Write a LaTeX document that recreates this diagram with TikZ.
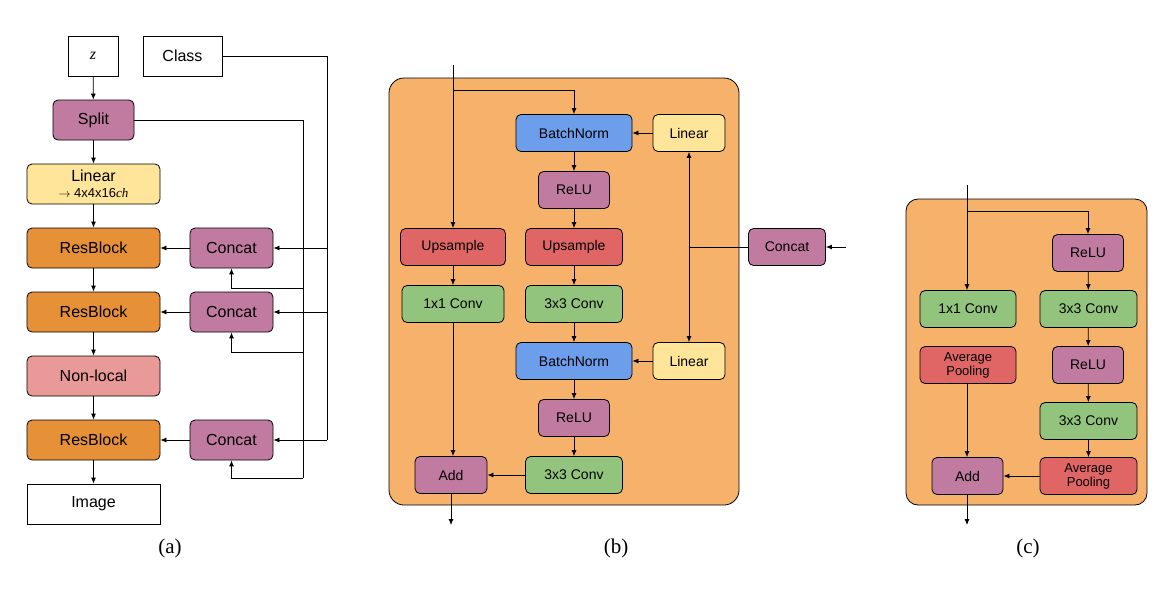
\documentclass[tikz,border=0pt]{standalone}
\usepackage{fontspec}
\setmainfont{Liberation Sans}
\newfontfamily\serif{Liberation Serif}
\usetikzlibrary{arrows.meta}
\definecolor{cpur}{HTML}{C27BA0}
\definecolor{cyel}{HTML}{FFE599}
\definecolor{corg}{HTML}{E69138}
\definecolor{cpink}{HTML}{EA9999}
\definecolor{cblue}{HTML}{6D9EEB}
\definecolor{cred}{HTML}{E06666}
\definecolor{cgrn}{HTML}{93C47D}
\definecolor{cbg}{HTML}{F6B26B}
\begin{document}
\begin{tikzpicture}[x=1pt,y=-1pt,
 blk/.style={draw=black,line width=0.8pt,rounded corners=5pt,inner sep=0pt,align=center},
 A/.style={blk,minimum height=40pt,font=\fontsize{16}{18}\selectfont},
 B/.style={blk,minimum height=37pt,font=\fontsize{14}{16}\selectfont},
 arr/.style={-{Latex[length=6pt,width=5pt]},line width=0.8pt},
 ln/.style={line width=0.8pt},
 lab/.style={font=\serif\fontsize{21}{24}\selectfont}]
\useasboundingbox (0,0) rectangle (1172,590);
% (a)
\node[A,rounded corners=0pt,minimum width=50pt] (z) at (93,56) {\itshape\serif z};
\node[A,rounded corners=0pt,minimum width=79pt] (cls) at (182.5,56) {Class};
\node[A,fill=cpur,minimum width=81pt] (split) at (93.5,120) {Split};
\node[A,fill=cyel,minimum width=133pt] (lin) at (93.5,184) {Linear\\[-2pt]{\fontsize{13}{14}\selectfont$\rightarrow$ 4x4x16\serif\itshape ch}};
\node[A,fill=corg,minimum width=133pt] (rb1) at (93.5,248) {ResBlock};
\node[A,fill=corg,minimum width=133pt] (rb2) at (93.5,312) {ResBlock};
\node[A,fill=cpink,minimum width=133pt] (nl) at (93.5,376) {Non-local};
\node[A,fill=corg,minimum width=133pt] (rb3) at (93.5,440) {ResBlock};
\node[A,rounded corners=0pt,minimum width=133pt] (img) at (93.5,504) {Image};
\node[A,fill=cpur,minimum width=83pt] (c1) at (231.5,248) {Concat};
\node[A,fill=cpur,minimum width=83pt] (c2) at (231.5,312) {Concat};
\node[A,fill=cpur,minimum width=83pt] (c3) at (231.5,440) {Concat};
\draw[arr] (z) -- (split);
\draw[arr] (split) -- (lin);
\draw[arr] (lin) -- (rb1);
\draw[arr] (rb1) -- (rb2);
\draw[arr] (rb2) -- (nl);
\draw[arr] (nl) -- (rb3);
\draw[arr] (rb3) -- (img);
\draw[arr] (c1) -- (rb1);
\draw[arr] (c2) -- (rb2);
\draw[arr] (c3) -- (rb3);
\coordinate (ct) at (327,56);
\coordinate (cb) at (327,440);
\draw[ln] (cls.east) -- (ct) -- (cb);
\draw[arr] (cb) -- (c3.east);
\draw[arr] (327,248) -- (c1.east);
\draw[arr] (327,312) -- (c2.east);
\coordinate (st) at (303,120);
\coordinate (sb) at (303,478);
\draw[ln] (split.east) -- (st) -- (sb);
\draw[arr] (sb) -| (c3.south);
\draw[arr] (303,288) -| (c1.south);
\draw[arr] (303,352) -| (c2.south);
\node[lab] (la) at (170,548) {(a)};
% (b)
\node[draw=black,line width=0.8pt,fill=cbg,rounded corners=15pt,minimum width=350pt,minimum height=427pt,inner sep=0pt] (bgb) at (564,291.5) {};
\node[B,fill=cblue,minimum width=116pt] (bn1) at (574,133) {BatchNorm};
\node[B,fill=cyel,minimum width=72pt] (l1) at (689,133) {Linear};
\node[B,fill=cpur,minimum width=71pt] (r1) at (574,190) {ReLU};
\node[B,fill=cred,minimum width=105pt] (upl) at (453,247) {Upsample};
\node[B,fill=cred,minimum width=97pt] (upr) at (574,247) {Upsample};
\node[B,fill=cgrn,minimum width=102pt] (c11) at (453,304) {1x1 Conv};
\node[B,fill=cgrn,minimum width=97pt] (c31) at (574,304) {3x3 Conv};
\node[B,fill=cblue,minimum width=116pt] (bn2) at (574,361) {BatchNorm};
\node[B,fill=cyel,minimum width=72pt] (l2) at (689,361) {Linear};
\node[B,fill=cpur,minimum width=71pt] (r2) at (574,418) {ReLU};
\node[B,fill=cpur,minimum width=72pt] (addb) at (451,475) {Add};
\node[B,fill=cgrn,minimum width=97pt] (c32) at (574,475) {3x3 Conv};
\node[B,fill=cpur,minimum width=77pt] (ccb) at (787,247) {Concat};
\coordinate (bin) at (453,65);
\coordinate (bsp) at (453,90);
\coordinate (bout) at (451,525);
\coordinate (bcin) at (846,247);
\draw[arr] (bin) -- (upl);
\draw[arr] (bsp) -| (bn1.north);
\draw[arr] (bn1) -- (r1);
\draw[arr] (r1) -- (upr);
\draw[arr] (upr) -- (c31);
\draw[arr] (c31) -- (bn2);
\draw[arr] (bn2) -- (r2);
\draw[arr] (r2) -- (c32);
\draw[arr] (upl) -- (c11);
\draw[arr] (c11.south) -- (addb.north -| c11.south);
\draw[arr] (c32) -- (addb);
\draw[arr] (addb) -- (bout);
\draw[arr] (l1) -- (bn1);
\draw[arr] (l2) -- (bn2);
\draw[arr] (bcin) -- (ccb);
\draw[arr] (ccb.west) -- (689,247) -- (l1.south);
\draw[arr] (689,247) -- (l2.north);
\node[lab] (lb) at (616,548) {(b)};
% (c)
\node[draw=black,line width=0.8pt,fill=cbg,rounded corners=12pt,minimum width=241pt,minimum height=306pt,inner sep=0pt] (bgc) at (1026.5,352) {};
\node[B,fill=cpur,minimum width=71pt] (cr1) at (1088,253) {ReLU};
\node[B,fill=cgrn,minimum width=97pt] (cc1) at (1088.5,309) {3x3 Conv};
\node[B,fill=cpur,minimum width=71pt] (cr2) at (1088,365) {ReLU};
\node[B,fill=cgrn,minimum width=97pt] (cc2) at (1088.5,421) {3x3 Conv};
\node[B,fill=cred,minimum width=97pt,font=\fontsize{13}{14}\selectfont] (cap) at (1088.5,476) {Average\\Pooling};
\node[B,fill=cgrn,minimum width=96pt] (c1x) at (968,309) {1x1 Conv};
\node[B,fill=cred,minimum width=96pt,font=\fontsize{13}{14}\selectfont] (lap) at (968,365) {Average\\Pooling};
\node[B,fill=cpur,minimum width=71pt] (cadd) at (967.5,476) {Add};
\coordinate (cin) at (967,185);
\coordinate (csp) at (967,211);
\coordinate (cout) at (967,525);
\draw[arr] (cin) -- (c1x.north -| cin);
\draw[arr] (csp) -| (cr1.north);
\draw[arr] (cr1) -- (cc1);
\draw[arr] (cc1) -- (cr2);
\draw[arr] (cr2) -- (cc2);
\draw[arr] (cc2) -- (cap);
\draw[arr] (cap) -- (cadd);
\draw[arr] (lap.south -| cin) -- (cadd.north -| cin);
\draw[arr] (cadd.south -| cin) -- (cout);
\node[lab] (lc) at (1028,548) {(c)};
\end{tikzpicture}
\end{document}
